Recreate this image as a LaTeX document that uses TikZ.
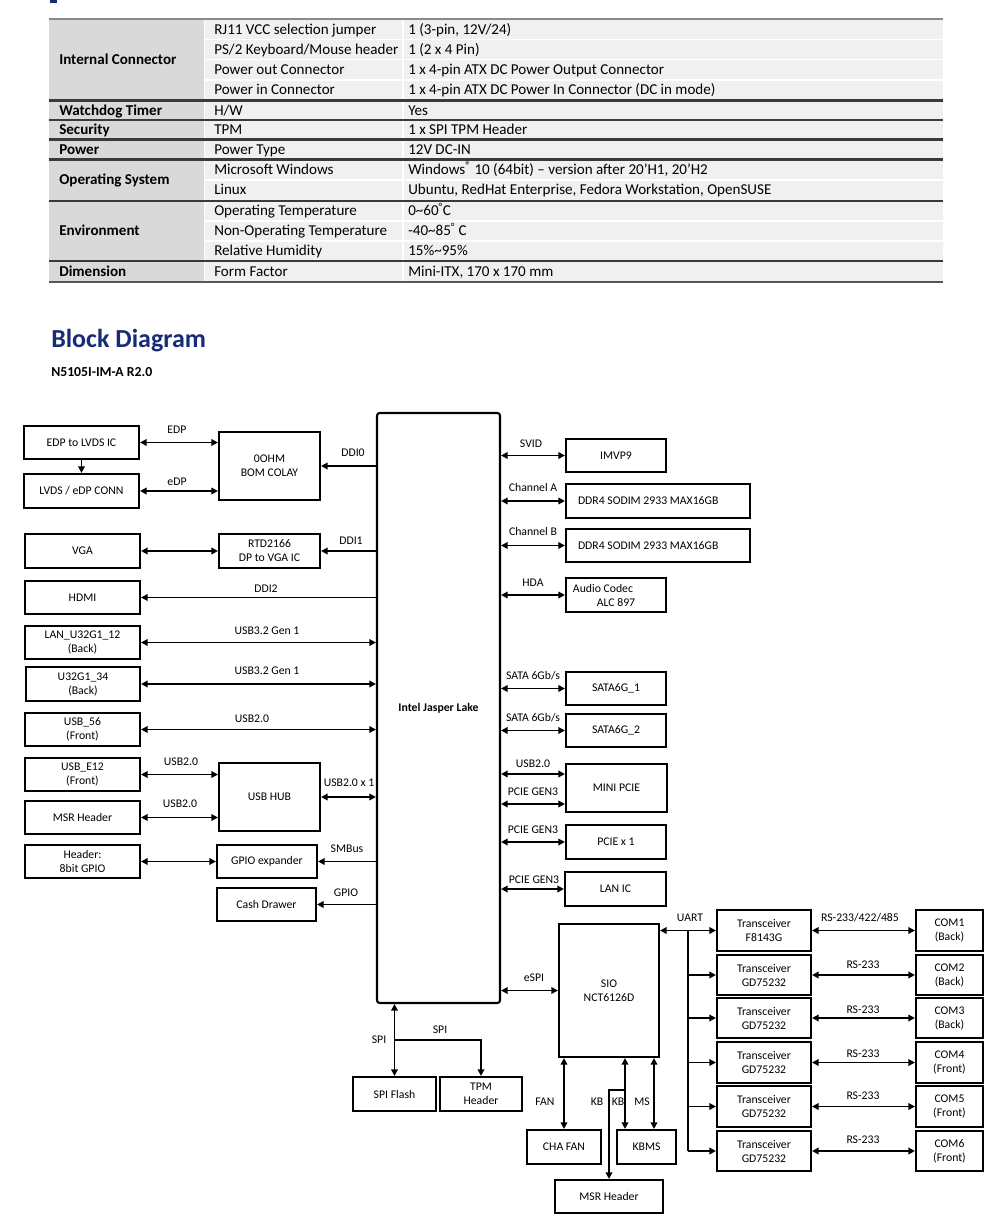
\documentclass[tikz,border=0pt]{standalone}
\usepackage{fontspec}
\setmainfont{Carlito}
\usetikzlibrary{arrows.meta}
\definecolor{ttl}{RGB}{22,44,120}
\definecolor{cola}{RGB}{217,217,217}
\definecolor{colb}{RGB}{240,240,240}
\definecolor{topline}{RGB}{138,138,138}
\definecolor{grpline}{RGB}{58,58,58}
\newcommand\bx[7][]{\node[box,minimum width={(#5-#3)*0.75pt},minimum height={(#6-#4)*0.75pt},#1] (#2) at ({(#3+#5)/2},{(#4+#6)/2}) {#7};}
\newcommand\lb[4]{\node[lbl] (#1) at ({#2},{#3+3.8}) {#4};}
\newcommand\trow[4]{\node[tt] (b#1) at (214,{#2+4.8}) {#3};\node[tt] (c#1) at (408,{#2+4.8}) {#4};}
\newcommand\tgrp[3]{\node[tt,font=\fontsize{11.3}{13}\selectfont\bfseries] (g#1) at (59,{#2+4.8}) {#3};}
\begin{document}
\begin{tikzpicture}[x=0.75pt,y=-0.75pt,
  box/.style={draw,line width=1.6pt,inner sep=0pt,align=center,font=\fontsize{8.8}{10.5}\selectfont},
  con/.style={line width=1.45pt},
  dbl/.style={con,{Triangle[length=5pt,width=5pt]}-{Triangle[length=5pt,width=5pt]}},
  sgl/.style={con,-{Triangle[length=5pt,width=5pt]}},
  lbl/.style={font=\fontsize{8.8}{10.5}\selectfont,inner sep=0pt,anchor=base},
  tt/.style={font=\fontsize{11.3}{13}\selectfont,inner sep=0pt,anchor=base west}]
\useasboundingbox[fill=white] (0,0) rectangle (1000,1223);
\fill[ttl] (50,0) rectangle (57,3);
% ---------------- table ----------------
\fill[cola] (49,19) rectangle (204,282);
\fill[colb] (204,19) rectangle (943,282);
\foreach \yy in {39.5,59.5,80,180,221,241}
  \draw[white,line width=1.2pt] (204,\yy) -- (943,\yy);
\draw[white,line width=1pt] (204.5,19) -- (204.5,282);
\draw[white,line width=0.8pt] (403,19) -- (403,282);
\draw[topline,line width=1.6pt] (49,19) -- (943,19);
\foreach \yy in {100.5,120,139.5,159.5,201,261}
  \draw[grpline,line width=1.6pt] (49,\yy) -- (943,\yy);
\draw[grpline!85,line width=2.2pt] (49,282) -- (943,282);
\tgrp{1}{60}{Internal Connector}
\tgrp{2}{111}{Watchdog Timer}
\tgrp{3}{130}{Security}
\tgrp{4}{149.5}{Power}
\tgrp{5}{180}{Operating System}
\tgrp{6}{231}{Environment}
\tgrp{7}{272}{Dimension}
\trow{1}{29.5}{RJ11 VCC selection jumper}{1 (3-pin, 12V/24)}
\trow{2}{49.5}{PS/2 Keyboard/Mouse header}{1 (2 x 4 Pin)}
\trow{3}{70}{Power out Connector}{1 x 4-pin ATX DC Power Output Connector}
\trow{4}{90}{Power in Connector}{1 x 4-pin ATX DC Power In Connector (DC in mode)}
\trow{5}{111}{H/W}{Yes}
\trow{6}{130}{TPM}{1 x SPI TPM Header}
\trow{7}{149.5}{Power Type}{12V DC-IN}
\trow{8}{170}{Microsoft Windows}{Windows\raisebox{0.32em}{\fontsize{8.5}{8.5}\selectfont ®} 10 (64bit) – version after 20’H1, 20’H2}
\trow{9}{190}{Linux}{Ubuntu, RedHat Enterprise, Fedora Workstation, OpenSUSE}
\trow{10}{211}{Operating Temperature}{0\textasciitilde 60\textsuperscript{°}C}
\trow{11}{231}{Non-Operating Temperature}{-40\textasciitilde 85\textsuperscript{°} C}
\trow{12}{251}{Relative Humidity}{15\%\textasciitilde 95\%}
\trow{13}{272}{Form Factor}{Mini-ITX, 170 x 170 mm}
% ---------------- titles ----------------
\node[anchor=base west,inner sep=0pt,text=ttl,font=\fontsize{19.5}{22}\selectfont\bfseries] (title) at (51,347.3) {Block Diagram};
\node[anchor=base west,inner sep=0pt,font=\fontsize{10.3}{12}\selectfont\bfseries] (sub) at (51,376.4) {N5105I-IM-A R2.0};
% ---------------- boxes ----------------
\bx[rounded corners=2pt]{cpu}{377}{413}{500}{1003}{\textbf{Intel Jasper Lake}}
\bx{edplvds}{24}{426}{139}{459}{EDP to LVDS IC}
\bx{lvdsconn}{24}{474}{139}{508}{LVDS / eDP CONN}
\bx{vga}{25}{534}{140}{568}{VGA}
\bx{hdmi}{25}{581}{140}{614}{HDMI}
\bx{lan}{25}{626}{140}{659}{LAN\_U32G1\_12\\(Back)}
\bx{usbt}{26}{667}{140}{701}{U32G1\_34\\(Back)}
\bx{usbf}{25}{713}{140}{746}{USB\_56\\(Front)}
\bx{usbe}{25}{758}{140}{791}{USB\_E12\\(Front)}
\bx{msra}{25}{801}{140}{834}{MSR Header}
\bx{gpiohdr}{25}{845}{140}{878}{Header:\\8bit GPIO}
\bx{ohm}{219}{432}{320}{500}{0OHM\\BOM COLAY}
\bx{rtd}{219}{534}{320}{568}{RTD2166\\DP to VGA IC}
\bx{hub}{219}{763}{320}{831}{USB HUB}
\bx{gpioexp}{217}{845}{317}{878}{GPIO expander}
\bx{cash}{217}{888}{316}{921}{Cash Drawer}
\bx{imvp}{566}{439}{666}{472}{IMVP9}
\bx{ddra}{566}{484}{750}{518}{\makebox[120pt][l]{DDR4 SODIM 2933 MAX16GB}}
\bx{ddrb}{566}{529}{750}{562}{\makebox[120pt][l]{DDR4 SODIM 2933 MAX16GB}}
\bx{audio}{566}{578}{666}{612}{\hspace*{-19.5pt}Audio Codec\\ALC 897}
\bx{sataa}{566}{672}{666}{705}{SATA6G\_1}
\bx{satab}{566}{714}{666}{747}{SATA6G\_2}
\bx{mpcie}{566}{764}{667}{812}{MINI PCIE}
\bx{pcie}{566}{825}{666}{859}{PCIE x 1}
\bx{lanic}{565}{872}{666}{906}{LAN IC}
\bx{sio}{559}{924}{659}{1057}{SIO\\NCT6126D}
\bx{spiflash}{353}{1077}{436}{1111}{SPI Flash}
\bx{tpm}{440}{1077}{522}{1111}{TPM\\Header}
\bx{chafan}{527}{1130}{601}{1164}{CHA FAN}
\bx{kbms}{617}{1130}{676}{1164}{KBMS}
\bx{msrb}{555}{1180}{663}{1213}{MSR Header}
\bx{ta}{717}{910}{811}{951}{Transceiver\\F8143G}
\bx{tb}{717}{955}{811}{995}{Transceiver\\GD75232}
\bx{tc}{717}{998}{811}{1038}{Transceiver\\GD75232}
\bx{td}{717}{1042}{811}{1083}{Transceiver\\GD75232}
\bx{te}{717}{1086}{811}{1127}{Transceiver\\GD75232}
\bx{tf}{717}{1131}{811}{1171}{Transceiver\\GD75232}
\bx{coma}{916}{910}{983}{951}{COM1\\(Back)}
\bx{comb}{916}{955}{983}{995}{COM2\\(Back)}
\bx{comc}{916}{998}{983}{1038}{COM3\\(Back)}
\bx{comd}{916}{1042}{983}{1083}{COM4\\(Front)}
\bx{come}{916}{1086}{983}{1127}{COM5\\(Front)}
\bx{comf}{916}{1131}{983}{1171}{COM6\\(Front)}
% ---------------- helper coordinates ----------------
\coordinate (ym1) at (0,774);
\coordinate (ym2) at (0,804);
\coordinate (bus) at (688,0);
\coordinate (kbx) at (625,0);
\coordinate (msx) at (654,0);
\coordinate (kby) at (0,1090);
\coordinate (spib) at (394.5,1040);
% ---------------- connectors left ----------------
\draw[dbl] (edplvds.east) -- (edplvds.east -| ohm.west);
\draw[sgl] (edplvds.south) -- (lvdsconn.north);
\draw[dbl] (lvdsconn.east) -- (lvdsconn.east -| ohm.west);
\draw[sgl] (cpu.west |- ohm.east) -- (ohm.east);
\draw[dbl] (vga.east) -- (rtd.west);
\draw[sgl] (cpu.west |- rtd.east) -- (rtd.east);
\draw[sgl] (cpu.west |- hdmi.east) -- (hdmi.east);
\draw[dbl] (lan.east) -- (lan.east -| cpu.west);
\draw[dbl] (usbt.east) -- (usbt.east -| cpu.west);
\draw[dbl] (usbf.east) -- (usbf.east -| cpu.west);
\draw[dbl] (usbe.east) -- (usbe.east -| hub.west);
\draw[dbl] (msra.east) -- (msra.east -| hub.west);
\draw[dbl] (hub.east) -- (hub.east -| cpu.west);
\draw[dbl] (gpiohdr.east) -- (gpioexp.west);
\draw[sgl] (cpu.west |- gpioexp.east) -- (gpioexp.east);
\draw[sgl] (cpu.west |- cash.east) -- (cash.east);
% ---------------- connectors right ----------------
\draw[dbl] (cpu.east |- imvp.west) -- (imvp.west);
\draw[dbl] (cpu.east |- ddra.west) -- (ddra.west);
\draw[dbl] (cpu.east |- ddrb.west) -- (ddrb.west);
\draw[dbl] (cpu.east |- audio.west) -- (audio.west);
\draw[dbl] (cpu.east |- sataa.west) -- (sataa.west);
\draw[dbl] (cpu.east |- satab.west) -- (satab.west);
\draw[dbl] (cpu.east |- ym1) -- (mpcie.west |- ym1);
\draw[dbl] (cpu.east |- ym2) -- (mpcie.west |- ym2);
\draw[dbl] (cpu.east |- pcie.west) -- (pcie.west);
\draw[dbl] (cpu.east |- lanic.west) -- (lanic.west);
\draw[dbl] (cpu.east |- sio.west) -- (sio.west);
% ---------------- bottom ----------------
\draw[dbl] (spiflash.north |- cpu.south) -- (spiflash.north);
\draw[sgl] (spib) -| (tpm.north);
\draw[dbl] (chafan.north |- sio.south) -- (chafan.north);
\draw[dbl] (kbx |- sio.south) -- (kbx |- kbms.north);
\draw[dbl] (msx |- sio.south) -- (msx |- kbms.north);
\draw[sgl] (kbx |- kby) -| (msrb.north);
% ---------------- UART / COM ----------------
\draw[dbl] (sio.east |- ta.west) -- (ta.west);
\draw[con] (bus |- ta.west) -- (bus |- tf.west);
\foreach \t in {tb,tc,td,te,tf}
  \draw[sgl] (bus |- \t.west) -- (\t.west);
\draw[dbl] (ta.east) -- (coma.west);
\draw[dbl] (tb.east) -- (comb.west);
\draw[dbl] (tc.east) -- (comc.west);
\draw[dbl] (td.east) -- (comd.west);
\draw[dbl] (te.east) -- (come.west);
\draw[dbl] (tf.east) -- (comf.west);
% ---------------- labels ----------------
\lb{l1}{177}{430}{EDP}
\lb{l2}{177}{482}{eDP}
\lb{l3}{353}{453}{DDI0}
\lb{l4}{351}{541}{DDI1}
\lb{l5}{266}{589}{DDI2}
\lb{l6}{267}{631}{USB3.2 Gen 1}
\lb{l7}{267}{671}{USB3.2 Gen 1}
\lb{l8}{252}{719}{USB2.0}
\lb{l9}{181}{762}{USB2.0}
\lb{l10}{180}{804}{USB2.0}
\lb{l11}{349}{783}{USB2.0 x 1}
\lb{l12}{347}{849}{SMBus}
\lb{l13}{346}{893}{GPIO}
\lb{r1}{531}{444}{SVID}
\lb{r2}{533}{488}{Channel A}
\lb{r3}{533}{532}{Channel B}
\lb{r4}{533}{583}{HDA}
\lb{r5}{533}{676}{SATA 6Gb/s}
\lb{r6}{533}{718}{SATA 6Gb/s}
\lb{r7}{533}{764}{USB2.0}
\lb{r8}{533}{792}{PCIE GEN3}
\lb{r9}{533}{830}{PCIE GEN3}
\lb{r10}{534}{880}{PCIE GEN3}
\lb{r11}{534}{978}{eSPI}
\lb{u1}{690}{918}{UART}
\lb{u2}{860}{918}{RS-233/422/485}
\lb{u3}{863}{965}{RS-233}
\lb{u4}{863}{1010}{RS-233}
\lb{u5}{863}{1054}{RS-233}
\lb{u6}{863}{1096}{RS-233}
\lb{u7}{863}{1140}{RS-233}
\lb{s1}{379}{1040}{SPI}
\lb{s2}{440}{1030}{SPI}
\lb{f1}{545}{1102}{FAN}
\lb{f2}{597}{1102}{KB}
\lb{f3}{618}{1102}{KB}
\lb{f4}{642}{1102}{MS}
\end{tikzpicture}
\end{document}
